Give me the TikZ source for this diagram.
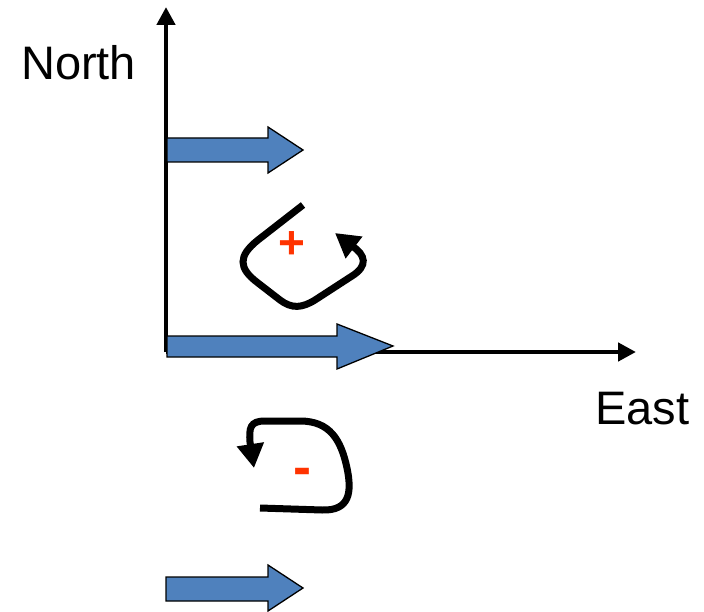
\documentclass[tikz,border=0pt]{standalone}
\usepackage{fontspec}
\setmainfont{Liberation Sans}
\usetikzlibrary{arrows.meta}
\definecolor{blk}{HTML}{4F81BD}
\definecolor{sgn}{HTML}{FF3300}
\tikzset{
  axis/.style={line width=4.5pt,-{Triangle[length=18pt,width=18pt]}},
  blockarrow/.style={fill=blk,draw=black,line width=1.3pt,line join=miter},
  loop/.style={line width=7pt,line cap=butt,-{Triangle[length=24pt,width=26pt]}},
  lbl/.style={font=\fontsize{47}{50}\selectfont,inner sep=0pt,anchor=base west},
}
\begin{document}
\begin{tikzpicture}[x=1pt,y=-1pt]
\useasboundingbox (0,0) rectangle (704,612);
% axes
\coordinate (O) at (166,352);
\coordinate (N) at (166,7);
\coordinate (E) at (636,352);
\draw[axis] (O) -- (N);
\draw[axis] (O) -- (E);
% block arrows
\draw[blockarrow] (167,138) -- (268,138) -- (268,127) -- (303,150) -- (268,173) -- (268,162) -- (167,162) -- cycle;
\draw[blockarrow] (167,336) -- (337,336) -- (337,324) -- (393,346) -- (337,369) -- (337,357) -- (167,357) -- cycle;
\draw[blockarrow] (166,577) -- (268,577) -- (268,565) -- (303,588) -- (268,611) -- (268,601) -- (166,601) -- cycle;
% positive loop
\draw[loop] (303,205) -- (258,240) .. controls (238,256) and (238,268) .. (258,283)
  -- (280,300) .. controls (292,309) and (302,308) .. (315,300)
  -- (352,276) .. controls (368,266) and (366,255) .. (352,246) -- (335,233);
\node[text=sgn,font=\bfseries\fontsize{46}{50}\selectfont,inner sep=0pt] (plus) at (292,245) {+};
% negative loop
\draw[loop] (260,508) -- (322,510) .. controls (350,511) and (352,492) .. (347,468)
  .. controls (341,440) and (330,421) .. (300,421) -- (265,421)
  .. controls (250,421) and (249,428) .. (250,442) -- (254,468);
\node[text=sgn,font=\bfseries\fontsize{54}{50}\selectfont,inner sep=0pt] (minus) at (302,477) {-};
% labels
\node[lbl] (north) at (21,80) {North};
\node[lbl] (east) at (595,424) {East};
\end{tikzpicture}
\end{document}
